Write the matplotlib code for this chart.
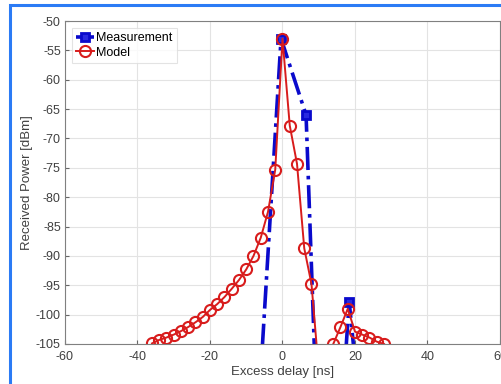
import matplotlib
matplotlib.use('Agg')
import matplotlib.pyplot as plt
from matplotlib.patches import Rectangle

plt.rcParams['font.family'] = ['Liberation Sans', 'DejaVu Sans']
plt.rcParams['axes.unicode_minus'] = False

# measurement (points below -105 fall outside the axes)
meas_delay = [-6.5, -0.4, 6.5, 9.5, 16.5, 18.4, 20.5]
meas_power = [-115, -53, -66, -118, -115, -97.8, -111]

# model, 2 ns steps
model_delay = [-36, -34, -32, -30, -28, -26, -24, -22, -20, -18, -16, -14, -12, -10,
               -8, -6, -4, -2, 0, 2, 4, 6, 8, 10, 12, 14, 16, 18, 20, 22, 24, 26, 28]
model_power = [-104.9, -104.3, -103.9, -103.4, -102.8, -102.1, -101.3, -100.4, -99.2,
               -98.2, -97.0, -95.6, -94.1, -92.3, -90.0, -86.9, -82.5, -75.3, -53.0,
               -67.8, -74.3, -88.7, -94.8, -109.5, -118, -105.0, -102.1, -99.0, -102.9,
               -103.4, -103.9, -104.6, -105.0]

xticks = [-60, -40, -20, 0, 20, 40, 60]
yticks = [-105, -100, -95, -90, -85, -80, -75, -70, -65, -60, -55, -50]

fig = plt.figure(figsize=(5.02, 3.84), dpi=100)
fig.patches.append(Rectangle((10 / 502, -0.1), 1.2, 1 - 5 / 384 + 0.1, transform=fig.transFigure,
                             fill=False, edgecolor='#2b7bf5', linewidth=2.2))
ax = fig.add_axes([65 / 502, 1 - 344 / 384, 435 / 502, 323 / 384])

ax.plot(meas_delay, meas_power, color='#0a0acc', linestyle='-.', linewidth=2.6,
        marker='s', markersize=6, markeredgewidth=2, markerfacecolor='#2a2ae0',
        label='Measurement')
ax.plot(model_delay, model_power, color='#d81c1c', linestyle='-', linewidth=1.4,
        marker='o', markersize=8, markeredgewidth=1.5, markerfacecolor='none',
        label='Model')

ax.set_xlim(-60, 60)
ax.set_ylim(-105, -50)
ax.set_xticks(xticks)
ax.set_yticks(yticks)
ax.grid(True, color='#e3e3e3', linewidth=0.8)
ax.set_axisbelow(True)
ax.tick_params(direction='in', length=3, colors='#666666', labelsize=9, labelcolor='#404040')
ax.tick_params(axis='y', pad=3)
ax.tick_params(axis='x', pad=5)
for s in ax.spines.values():
    s.set_color('#808080')
    s.set_linewidth(0.8)

ax.set_xlabel('Excess delay [ns]', fontsize=9.5, color='#404040')
ax.set_ylabel('Received Power [dBm]', fontsize=9.5, color='#404040')
ax.xaxis.set_label_coords(0.5, -22 / 323)
ax.yaxis.set_label_coords(-32 / 435, 0.5)

leg = ax.legend(loc='upper left', fontsize=9, handlelength=1.4, handletextpad=0.2,
                borderpad=0.35, labelspacing=0.2, borderaxespad=0.55, fancybox=False)
leg.get_frame().set_edgecolor('#dddddd')
leg.get_frame().set_linewidth(0.8)

fig.savefig('out.png', dpi=100)
